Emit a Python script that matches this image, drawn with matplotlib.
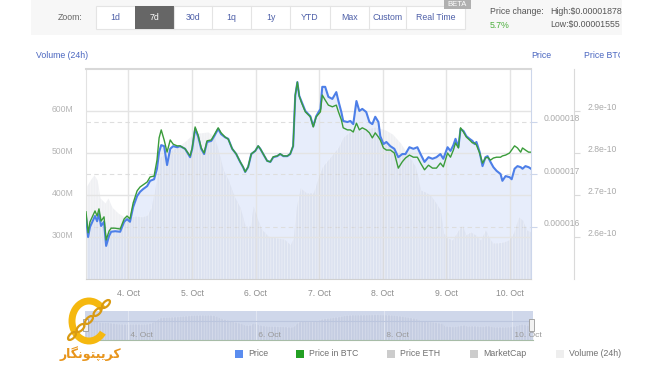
import numpy as np
import matplotlib
matplotlib.use('Agg')
import matplotlib.pyplot as plt
import matplotlib.dates as mdates
import matplotlib.transforms as mtransforms
from matplotlib.patches import Rectangle, Arc, Ellipse

# hours after the left edge of the 7d window (3 Oct 08:00)
price_hours = [0.0, 0.8, 1.5, 3.4, 4.2, 4.9, 5.7, 6.8, 7.6, 8.7, 9.5, 11.0, 12.9, 14.4, 15.5,
               16.6, 17.8, 19.3, 20.4, 21.5, 23.1, 24.2, 25.7, 26.8, 27.6, 28.4, 29.5, 30.6,
               31.8, 32.9, 34.4, 35.5, 37.4, 39.3, 40.1, 41.2, 42.3, 43.5, 44.6, 45.7, 47.3,
               48.4, 49.9, 51.0, 52.5, 53.7, 55.2, 56.7, 58.2, 59.3, 60.1, 61.2, 62.4, 63.9,
               65.0, 65.8, 66.9, 68.4, 69.6, 70.7, 72.2, 73.3, 74.5, 76.0, 77.1, 78.2, 79.0,
               79.8, 80.5, 81.3, 82.8, 84.7, 85.8, 86.9, 88.5, 89.2, 90.3, 91.5, 93.0, 94.5,
               95.3, 96.4, 97.1, 98.7, 99.8, 100.9, 102.1, 103.2, 104.3, 105.8, 107.0, 108.1,
               109.2, 110.4, 111.1, 112.3, 113.4, 114.9, 116.4, 117.9, 119.4, 120.6, 122.1,
               123.6, 125.1, 126.3, 127.8, 129.3, 130.8, 132.3, 133.8, 134.9, 136.5, 137.6,
               138.7, 139.5, 140.6, 141.4, 142.5, 143.6, 144.8, 145.9, 146.7, 147.4, 148.6,
               149.7, 150.8, 151.6, 152.7, 153.8, 155.0, 156.5, 157.2, 158.4, 159.9, 160.7,
               161.8, 162.9, 164.1, 164.8, 165.9, 167.1, 168.0]

# price in USD (x 1e-6)
price = [16.18, 15.80, 15.99, 16.20, 16.10, 16.24, 16.01, 16.09, 15.63, 15.82, 15.90, 15.91,
         15.90, 16.09, 16.14, 16.09, 16.37, 16.58, 16.66, 16.71, 16.77, 16.87, 16.90, 17.10,
         17.42, 17.55, 17.53, 17.17, 17.48, 17.53, 17.51, 17.53, 17.48, 17.32, 17.48, 17.86,
         17.72, 17.48, 17.38, 17.61, 17.63, 17.72, 17.86, 17.76, 17.70, 17.67, 17.48, 17.38,
         17.23, 17.13, 17.04, 17.13, 17.38, 17.44, 17.53, 17.48, 17.38, 17.25, 17.23, 17.32,
         17.34, 17.38, 17.34, 17.34, 17.38, 17.53, 18.49, 18.75, 18.49, 18.39, 18.20, 18.10,
         17.91, 18.10, 18.24, 18.66, 18.66, 18.47, 18.43, 18.56, 18.39, 18.18, 18.01, 17.99,
         18.01, 17.95, 18.39, 18.20, 18.24, 18.18, 17.99, 17.95, 18.09, 17.99, 17.72, 17.57,
         17.61, 17.53, 17.48, 17.32, 17.38, 17.38, 17.51, 17.48, 17.51, 17.38, 17.23, 17.32,
         17.29, 17.32, 17.38, 17.29, 17.51, 17.44, 17.55, 17.67, 17.51, 17.86, 17.82, 17.72,
         17.67, 17.63, 17.57, 17.61, 17.42, 17.15, 17.32, 17.34, 17.23, 17.13, 17.06, 17.00,
         16.87, 16.96, 16.94, 16.90, 17.10, 17.15, 17.13, 17.10, 17.15, 17.13, 17.10]

# price in BTC (x 1e-10)
price_btc = [2.660, 2.610, 2.636, 2.662, 2.650, 2.667, 2.638, 2.648, 2.593, 2.614, 2.621, 2.621,
             2.619, 2.643, 2.650, 2.643, 2.681, 2.710, 2.719, 2.724, 2.731, 2.743, 2.745, 2.783,
             2.836, 2.855, 2.831, 2.802, 2.831, 2.821, 2.817, 2.817, 2.810, 2.793, 2.812, 2.862,
             2.843, 2.812, 2.800, 2.829, 2.831, 2.843, 2.860, 2.848, 2.838, 2.833, 2.810, 2.798,
             2.779, 2.767, 2.755, 2.767, 2.798, 2.805, 2.817, 2.810, 2.798, 2.781, 2.779, 2.791,
             2.793, 2.798, 2.793, 2.793, 2.798, 2.817, 2.938, 2.969, 2.936, 2.921, 2.898, 2.886,
             2.862, 2.886, 2.898, 2.938, 2.926, 2.914, 2.910, 2.914, 2.898, 2.879, 2.860, 2.855,
             2.855, 2.850, 2.871, 2.855, 2.860, 2.855, 2.848, 2.836, 2.848, 2.838, 2.831, 2.812,
             2.807, 2.807, 2.800, 2.764, 2.779, 2.788, 2.795, 2.790, 2.790, 2.776, 2.760, 2.771,
             2.764, 2.764, 2.776, 2.767, 2.800, 2.790, 2.807, 2.824, 2.812, 2.860, 2.850, 2.838,
             2.831, 2.824, 2.824, 2.819, 2.800, 2.776, 2.788, 2.790, 2.783, 2.788, 2.790, 2.790,
             2.793, 2.795, 2.800, 2.807, 2.817, 2.812, 2.802, 2.812, 2.807, 2.802, 2.802]

vol_hours = [0.0, 1.5, 3.0, 4.2, 5.3, 7.2, 8.3, 9.8, 12.1, 14.4, 16.6, 18.9, 21.2, 23.1, 24.6,
             26.1, 28.0, 29.9, 31.8, 34.8, 37.8, 40.4, 43.1, 46.1, 48.4, 49.9, 51.8, 53.7, 55.9,
             58.2, 60.1, 62.0, 63.1, 64.6, 66.2, 68.8, 71.8, 74.8, 77.1, 78.2, 79.4, 80.9, 83.2,
             85.8, 87.7, 89.2, 92.2, 95.3, 97.1, 100.5, 104.3, 109.2, 113.0, 115.7, 118.7, 121.7,
             124.4, 126.3, 128.1, 130.0, 131.9, 133.8, 134.9, 136.5, 138.3, 140.6, 142.1, 143.3,
             145.2, 147.0, 148.9, 150.8, 152.0, 153.5, 155.4, 157.6, 159.5, 161.4, 163.3, 164.8,
             166.3, 168.0]

# 24h volume, millions
volume = [419, 435, 448, 436, 393, 381, 393, 371, 357, 348, 348, 350, 348, 352, 371, 419, 490,
          500, 505, 515, 530, 545, 548, 550, 540, 507, 460, 436, 398, 370, 326, 326, 374, 345,
          319, 302, 298, 295, 282, 297, 371, 417, 405, 405, 443, 467, 490, 514, 538, 555, 555,
          562, 555, 545, 524, 495, 467, 412, 407, 400, 383, 364, 310, 298, 293, 317, 329, 305,
          312, 305, 293, 317, 300, 286, 286, 288, 293, 310, 348, 340, 317, 312]

vol_ticks = [300, 400, 500, 600]
vol_labels = ['300M', '400M', '500M', '600M']
price_ticks = [16, 17, 18]
price_labels = ['0.000016', '0.000017', '0.000018']
btc_ticks = [2.6, 2.7, 2.8, 2.9]
btc_labels = ['2.6e-10', '2.7e-10', '2.8e-10', '2.9e-10']
nav_days = ['2017-10-04', '2017-10-06', '2017-10-08', '2017-10-10']

zoom_buttons = ['1d', '7d', '30d', '1q', '1y', 'YTD', 'Max', 'Custom', 'Real Time']
legend_items = ['Price', 'Price in BTC', 'Price ETH', 'MarketCap', 'Volume (24h)']
legend_colors = ['#5b8def', '#23a023', '#cccccc', '#cccccc', '#eeeeee']

plt.rcParams['font.family'] = ['Liberation Sans', 'DejaVu Sans']
plt.rcParams['hatch.linewidth'] = 0.5

W, H = 650, 365
start = np.datetime64('2017-10-03T08:00')


def to_time(hours):
    mins = np.round(np.array(hours) * 60).astype(int)
    return start + mins.astype('timedelta64[m]')


def fx(x):
    return x / W


def fy(y):
    return 1 - y / H


def day_fmt(v, pos=None):
    d = mdates.num2date(v)
    return '{}. {}'.format(d.day, d.strftime('%b'))


def lift(labels, px):
    for lab in labels:
        lab.set_transform(lab.get_transform() +
                          mtransforms.ScaledTranslation(0, px / 100, fig.dpi_scale_trans))


t_price = to_time(price_hours)
t_vol = to_time(vol_hours)
t0, t1 = start, start + np.timedelta64(168, 'h')

fig = plt.figure(figsize=(6.5, 3.65), dpi=100)
rect = [fx(86), fy(279), fx(531) - fx(86), (279 - 69) / H]

# price axis: area fill, dashed grid, date axis
ax_p = fig.add_axes(rect)
ax_v = ax_p.twinx()   # volume
ax_l = ax_p.twinx()   # price line on top of the volume
ax_b = ax_p.twinx()   # price in BTC

ax_p.set_xlim(t0, t1)
ax_p.set_ylim(15, 19)
ax_p.fill_between(t_price, price, 15, color='#7398ea', alpha=0.17, lw=0)
ax_p.yaxis.tick_right()
ax_p.set_yticks(price_ticks)
ax_p.set_yticklabels(price_labels)
ax_p.tick_params(axis='y', length=4, color='#ccd6eb', pad=5, labelsize=6.2, labelcolor='#aaaaaa')
ax_p.grid(axis='y', ls=(0, (4, 3)), color='#dedede', lw=0.8)
ax_p.xaxis.set_major_locator(mdates.DayLocator())
ax_p.xaxis.set_major_formatter(plt.FuncFormatter(day_fmt))
ax_p.grid(axis='x', color='#e4e4e4', lw=1)
ax_p.tick_params(axis='x', length=0, pad=7, labelsize=6.2, labelcolor='#8c8c8c')
for s in ax_p.spines.values():
    s.set_visible(False)
lift(ax_p.get_yticklabels(), 4)

# volume axis (left)
ax_v.set_ylim(200, 700)
ax_v.yaxis.tick_left()
ax_v.set_yticks(vol_ticks)
ax_v.set_yticklabels(vol_labels)
ax_v.tick_params(axis='y', length=0, pad=9, labelsize=6.2, labelcolor='#b4b4b4')
ax_v.grid(axis='y', color='#e4e4e4', lw=1)
ax_v.fill_between(t_vol, volume, 200, color='#b9bdcb', alpha=0.22, lw=0)
ax_v.fill_between(t_vol, volume, 200, facecolor='none', edgecolor='white', alpha=0.5,
                  hatch='|' * 6, lw=0)
ax_v.spines['left'].set_color('#e2e2e2')
ax_v.spines['top'].set_color('#d8d8d8')
ax_v.spines['top'].set_linewidth(1.5)
ax_v.spines['bottom'].set_color('#d0d0d0')
ax_v.spines['right'].set_color('#ccd6eb')
lift(ax_v.get_yticklabels(), 3)

# price line
ax_l.set_ylim(15, 19)
ax_l.axis('off')
ax_l.plot(t_price, price, color='#4d7fe8', lw=1.5)

# BTC axis (far right)
ax_b.set_ylim(2.5, 3.0)
ax_b.spines['right'].set_position(('axes', (574 - 86) / 445))
ax_b.spines['right'].set_color('#dadada')
for k in ['left', 'top', 'bottom']:
    ax_b.spines[k].set_visible(False)
ax_b.set_yticks(btc_ticks)
ax_b.set_yticklabels(btc_labels)
ax_b.tick_params(axis='y', length=4, color='#dadada', pad=6, labelsize=6.2, labelcolor='#aaaaaa')
ax_b.plot(t_price, price_btc, color='#3a9c3a', lw=1.0)
lift(ax_b.get_yticklabels(), 4)

fig.text(fx(36), fy(56), 'Volume (24h)', color='#4a66c0', size=6.3, va='center')
fig.text(fx(531), fy(56), 'Price', color='#4a66c0', size=6.3, va='center')
t = fig.text(fx(584), fy(56), 'Price BTC', color='#4a66c0', size=6.3, va='center')
t.set_clip_box(mtransforms.Bbox([[0, 0], [620, H]]))
t.set_clip_on(True)

# navigator
ax_n = fig.add_axes([fx(85), fy(340), fx(533) - fx(85), (340 - 311) / H])
ax_n.set_facecolor('#cfd7ea')
ax_n.set_xlim(t0, t1)
ax_n.set_ylim(0, 640)
ax_n.fill_between(t_vol, volume, 0, color='#aab3cc', alpha=0.25, lw=0)
ax_n.fill_between(t_vol, volume, 0, facecolor='none', edgecolor='white', alpha=0.35,
                  hatch='|' * 6, lw=0)
ax_n.axhline(420, color='#bcc6de', lw=0.8)
ax_n.set_xticks([np.datetime64(d) for d in nav_days])
ax_n.grid(axis='x', color='#e0e5f1', lw=0.8)
ax_n.set_yticks([])
ax_n.tick_params(axis='x', length=0, labelbottom=False)
for d in nav_days:
    ax_n.text(np.datetime64(d), 100, ' ' + day_fmt(mdates.date2num(np.datetime64(d))),
              color='#999999', size=6, va='center', ha='left')
for s in ax_n.spines.values():
    s.set_visible(False)
ax_n.spines['bottom'].set_visible(True)
ax_n.spines['bottom'].set_color('#a7bca7')
for hx in [83, 529]:
    fig.add_artist(Rectangle((fx(hx), fy(331)), 5 / W, 12 / H, facecolor='#f2f2f2',
                             edgecolor='#999999', lw=0.6))

# toolbar
fig.add_artist(Rectangle((fx(31), fy(35)), (622 - 31) / W, 35 / H, facecolor='#f7f7f7', lw=0))
fig.add_artist(Rectangle((fx(96), fy(29)), (465 - 96) / W, 23 / H, facecolor='white',
                         edgecolor='#e4e4e4', lw=0.8))
edges = [96, 135, 174, 212, 251, 290, 330, 369, 406, 465]
for i, name in enumerate(zoom_buttons):
    x0, x1 = edges[i], edges[i + 1]
    if name == '7d':
        fig.add_artist(Rectangle((fx(x0), fy(29)), (x1 - x0) / W, 23 / H, facecolor='#666666', lw=0))
        col = 'white'
    else:
        col = '#4d5fa8'
        if i > 0:
            fig.add_artist(plt.Line2D([fx(x0)] * 2, [fy(29), fy(6)], color='#e4e4e4', lw=0.8))
    fig.text(fx((x0 + x1) / 2), fy(18), name, color=col, size=6.3, ha='center', va='center')
fig.text(fx(83), fy(18), 'Zoom:', color='#666666', size=6.3, ha='right', va='center')
fig.add_artist(Rectangle((fx(444), fy(9)), 27 / W, 9 / H, facecolor='#b0b0b0', lw=0))
fig.text(fx(457.5), fy(4.5), 'BETA', color='white', size=5.5, ha='center', va='center')
fig.text(fx(490), fy(12), 'Price change:', color='#555555', size=6.3, va='center')
fig.text(fx(490), fy(25), '5.7%', color='#4caf3c', size=6.3, va='center')
fig.text(fx(550), fy(12), 'High:$0.00001878', color='#555555', size=6.3, va='center')
fig.text(fx(550), fy(25), 'Low:$0.00001555', color='#555555', size=6.3, va='center')

# legend
leg_x = [235, 296, 387, 470, 556]
for x, name, c in zip(leg_x, legend_items, legend_colors):
    fig.add_artist(Rectangle((fx(x), fy(358)), 8 / W, 8 / H, facecolor=c, lw=0))
    fig.text(fx(x + 13), fy(354), name, color='#707070', size=6.3, va='center')

# logo
ident = mtransforms.IdentityTransform()
fig.add_artist(Arc((89, H - 321), 34, 40, theta1=40, theta2=320, lw=5, color='#f5b80f',
                   transform=ident))
for i in range(5):
    cx = 72 + i * 8.5
    cy = H - (336 - i * 8)
    fig.add_artist(Ellipse((cx, cy), 10, 5, angle=45, facecolor='none', edgecolor='#d99a12',
                           lw=1.6, transform=ident))
fig.text(fx(90), fy(354), '\uFEAD\uFE8E\uFB95\uFEE7\uFEEE\uFE98\uFB59\uFBFE\uFEAE\uFB90',
         color='#e8951c', size=9, weight='bold', family=['DejaVu Sans'], ha='center', va='center')

fig.savefig('out.png', dpi=100)
